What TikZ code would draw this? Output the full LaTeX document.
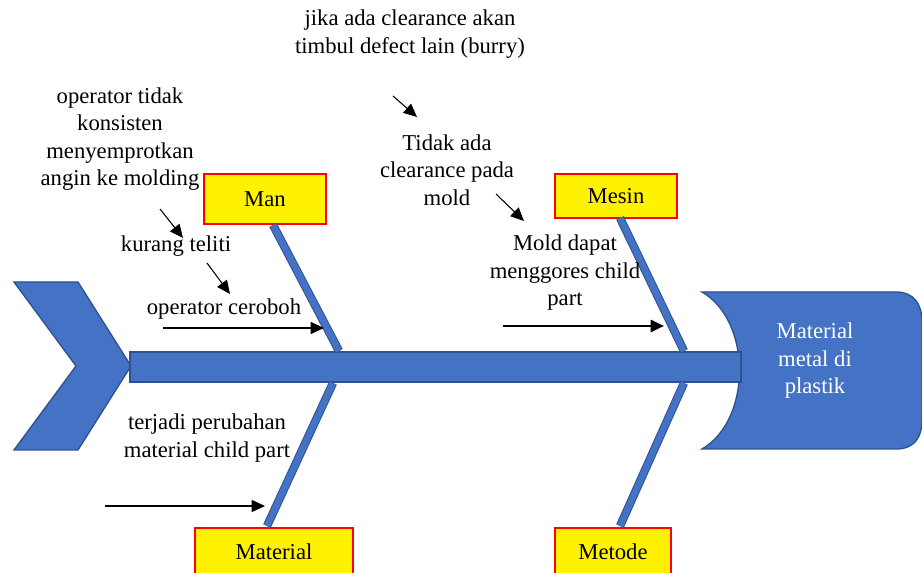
\documentclass[tikz,border=0pt]{standalone}
\usepackage{fontspec}
\setmainfont{Liberation Serif}
\usepackage{tikz}
\usetikzlibrary{positioning,arrows.meta}

\definecolor{boneblue}{HTML}{4472C4}
\definecolor{boneedge}{HTML}{2F528F}
\tikzset{
  catbox/.style={draw=red,line width=1.5pt,fill=yellow,minimum width=#1,minimum height=33pt,inner sep=0pt,font=\fontsize{17}{20}\selectfont},
  bone/.style={draw=boneedge,line width=0.75pt,double=boneblue,double distance=4.8pt},
  cause/.style={align=center,font=\fontsize{17}{20.6}\selectfont,inner sep=0pt},
  pointer/.style={-{Triangle[length=10pt,width=9pt]},line width=0.8pt},
}

\begin{document}
\begin{tikzpicture}[x=0.75pt,y=-0.75pt]
\useasboundingbox (0,0) rectangle (922,573);
% ---- tulang ikan: ekor, tulang belakang, kepala ----
\draw[boneedge,fill=boneblue,line width=1pt] (14,282) -- (78,282) -- (131,366) -- (78,450) -- (14,450) -- (76,366) -- cycle;
\draw[boneedge,fill=boneblue,line width=1pt] (702,292) -- (896,292) .. controls (914,292) and (922,304) .. (922,322) -- (922,420) .. controls (922,438) and (914,449) .. (896,449) -- (702,449) .. controls (752,420) and (752,321) .. (702,292) -- cycle;
\draw[boneedge,fill=boneblue,line width=1pt] (130,352) rectangle (741,382);
\node[cause,text=white] (akibat) at (815,361) {Material\\metal di\\plastik};
% ---- kategori ----
\node[catbox=91pt,minimum height=38pt] (man) at (265,199) {Man};
\node[catbox=92pt] (mesin) at (616,196) {Mesin};
\node[catbox=119pt,anchor=north,minimum height=36pt] (material) at (274,527) {Material};
\node[catbox=87pt,anchor=north,minimum height=36pt] (metode) at (613,527) {Metode};
\coordinate (sman) at (339,351);
\coordinate (smesin) at (684,351);
\coordinate (smaterial) at (333,383);
\coordinate (smetode) at (684,383);
\draw[bone] (273,225) -- (sman);
\draw[bone] (620,218) -- (smesin);
\draw[bone] (smaterial) -- (267,526);
\draw[bone] (smetode) -- (620,526);
% ---- sebab ----
\node[cause] (burry) at (410,34) {jika ada clearance akan\\timbul defect lain (burry)};
\node[cause] (angin) at (120,139) {operator tidak\\konsisten\\menyemprotkan\\angin ke molding};
\node[cause] (clear) at (447,170) {Tidak ada\\clearance pada\\mold};
\node[cause] (teliti) at (176,246) {kurang teliti};
\node[cause] (ceroboh) at (224,309) {operator ceroboh};
\node[cause] (gores) at (565,273) {Mold dapat\\menggores child\\part};
\node[cause] (ubah) at (207,438) {terjadi perubahan\\material child part};
% ---- panah ----
\coordinate (a1) at (393,96);   \coordinate (b1) at (417,117);
\coordinate (a2) at (496,194);  \coordinate (b2) at (524,221);
\coordinate (a3) at (160,209);  \coordinate (b3) at (183,238);
\coordinate (a4) at (207,263);  \coordinate (b4) at (230,294);
\coordinate (a5) at (163,328);  \coordinate (b5) at (324,328);
\coordinate (a6) at (503,326);  \coordinate (b6) at (664,326);
\coordinate (a7) at (105,506);  \coordinate (b7) at (265,506);
\draw[pointer] (a1) -- (b1);
\draw[pointer] (a2) -- (b2);
\draw[pointer] (a3) -- (b3);
\draw[pointer] (a4) -- (b4);
\draw[pointer] (a5) -- (b5);
\draw[pointer,line width=2pt] (a6) -- (b6);
\draw[pointer,line width=1.2pt] (a7) -- (b7);
\end{tikzpicture}
\end{document}
